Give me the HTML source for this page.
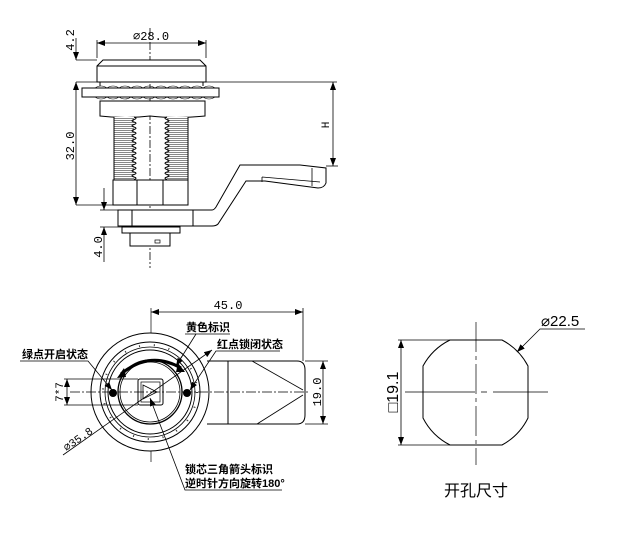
<!DOCTYPE html>
<html><head><meta charset="utf-8"><style>
html,body{margin:0;padding:0;background:#fff;width:644px;height:538px;overflow:hidden}
svg{display:block}
.m{font-family:"Liberation Mono","DejaVu Sans Mono",monospace;font-size:12px;fill:#000}
.c{font-family:"Liberation Sans","Noto Sans CJK SC",sans-serif;font-size:11px;fill:#000;font-weight:bold}
</style></head><body>
<svg width="644" height="538" viewBox="0 0 644 538" xmlns="http://www.w3.org/2000/svg">
<defs>
<pattern id="th" width="4" height="2" patternUnits="userSpaceOnUse"><rect width="4" height="2" fill="#fff"/><line x1="0" y1="0.5" x2="4" y2="0.5" stroke="#888" stroke-width="1"/></pattern>
<marker id="a" markerWidth="8" markerHeight="6" refX="8" refY="3" orient="auto-start-reverse" markerUnits="userSpaceOnUse"><path d="M0,0 L8,3 L0,6 z" fill="#000"/></marker>
</defs>
<g fill="none" stroke="#000" stroke-width="1">
<line x1="150" y1="28" x2="150" y2="268" stroke-dasharray="8,2,2,2" stroke-width="0.8"/>
<path d="M97,82 L97,66 L103,60 L200,60 L206,66 L206,82 Z" fill="#fff"/>
<line x1="97" y1="66" x2="206" y2="66"/>
<line x1="76" y1="82" x2="337" y2="82" stroke-width="0.8"/>
<line x1="100" y1="82" x2="100" y2="86"/><line x1="203" y1="82" x2="203" y2="86"/>
<rect x="82" y="88" width="137" height="9" fill="#fff"/>
<path d="M95,88 q6,-4 12,0 q6,-4 12,0 q6,-4 12,0 q6,-4 12,0 q6,-4 12,0 q6,-4 12,0 q6,-4 12,0 q6,-4 12,0 q6,-4 12,0 q6,-4 12,0" stroke-width="0.6"/>
<path d="M95,97 q6,4 12,0 q6,4 12,0 q6,4 12,0 q6,4 12,0 q6,4 12,0 q6,4 12,0 q6,4 12,0 q6,4 12,0 q6,4 12,0 q6,4 12,0" stroke-width="0.6"/>
<path d="M100,101 L205,101 L205,116 Q175,119 150,116 Q125,119 100,116 Z" fill="#fff"/>
<rect x="114" y="117" width="20" height="62" fill="url(#th)" stroke="none"/>
<rect x="167" y="117" width="21" height="62" fill="url(#th)" stroke="none"/>
<line x1="114" y1="117" x2="114" y2="180"/><line x1="188" y1="117" x2="188" y2="180"/>
<path d="M134,117 q4,1.25 0,2.5 t0,2.5 t0,2.5 t0,2.5 t0,2.5 t0,2.5 t0,2.5 t0,2.5 t0,2.5 t0,2.5 t0,2.5 t0,2.5 t0,2.5 t0,2.5 t0,2.5 t0,2.5 t0,2.5 t0,2.5 t0,2.5 t0,2.5 t0,2.5 t0,2.5 t0,2.5 t0,2.5 t0,2.5"/>
<path d="M167,117 q-4,1.25 0,2.5 t0,2.5 t0,2.5 t0,2.5 t0,2.5 t0,2.5 t0,2.5 t0,2.5 t0,2.5 t0,2.5 t0,2.5 t0,2.5 t0,2.5 t0,2.5 t0,2.5 t0,2.5 t0,2.5 t0,2.5 t0,2.5 t0,2.5 t0,2.5 t0,2.5 t0,2.5 t0,2.5 t0,2.5"/>
<rect x="113" y="180" width="75" height="25" fill="#fff"/>
<line x1="137" y1="180" x2="137" y2="205"/><line x1="163" y1="180" x2="163" y2="205"/>
<path d="M118,210 L212,210 Q214,210 216,207 L240,165 L300,165 L326,168 L326,183 Q324,188 318,188 L265,181 L246,181 L218,224 Q216,226 212,226 L118,226 Z" fill="#fff"/>
<line x1="132" y1="210" x2="132" y2="226"/><line x1="193" y1="210" x2="193" y2="226"/>
<path d="M262,177 L262,182 M262,177 L320,182 M312,168 L312,186" stroke-width="0.8"/>
<rect x="122" y="227" width="58" height="6" fill="#fff"/>
<rect x="130" y="233" width="40" height="13" fill="#fff"/>
<rect x="155" y="240" width="5" height="3" stroke-width="0.7"/>
<line x1="97" y1="58" x2="97" y2="40" stroke-width="0.8"/><line x1="206" y1="58" x2="206" y2="40" stroke-width="0.8"/>
<line x1="97" y1="43" x2="206" y2="43" marker-start="url(#a)" marker-end="url(#a)" stroke-width="0.8"/>
<line x1="76" y1="60" x2="97" y2="60" stroke-width="0.8"/>
<line x1="76" y1="38" x2="76" y2="60" marker-end="url(#a)" stroke-width="0.8"/>
<line x1="76" y1="82" x2="76" y2="205" marker-start="url(#a)" marker-end="url(#a)" stroke-width="0.8"/>
<line x1="76" y1="205" x2="113" y2="205" stroke-width="0.8"/>
<line x1="104" y1="188" x2="104" y2="210" marker-end="url(#a)" stroke-width="0.8"/>
<line x1="104" y1="227" x2="104" y2="262" marker-start="url(#a)" stroke-width="0.8"/>
<line x1="100" y1="210" x2="118" y2="210" stroke-width="0.8"/><line x1="100" y1="227" x2="122" y2="227" stroke-width="0.8"/>
<line x1="333" y1="82" x2="333" y2="166" marker-start="url(#a)" marker-end="url(#a)" stroke-width="0.8"/>
<line x1="326" y1="166" x2="338" y2="166" stroke-width="0.8"/>

<line x1="151" y1="308" x2="151" y2="462" stroke-width="0.7"/>
<path d="M207,361 L297,361 Q305,361 305,370 L305,415 Q305,424 297,424 L207,424" fill="#fff"/>
<line x1="228" y1="361" x2="228" y2="424"/>
<line x1="252" y1="361" x2="303" y2="390" stroke-width="0.8"/>
<line x1="257" y1="424" x2="303" y2="395" stroke-width="0.8"/>
<circle cx="150" cy="392" r="59" fill="#fff"/>
<circle cx="150" cy="392" r="50"/>
<circle cx="150" cy="392" r="47" stroke-dasharray="1,14" stroke-width="2" stroke="#333"/>
<circle cx="150" cy="392" r="45" stroke-width="0.8"/>
<circle cx="150" cy="392" r="42"/>
<circle cx="150" cy="392" r="32" stroke-width="1.3"/>
<circle cx="150" cy="392" r="30" stroke-width="0.8"/>
<rect x="138" y="379" width="25" height="26" rx="2"/>
<rect x="141" y="382" width="19" height="20" stroke-width="0.7"/>
<path d="M143,385 L157,392 L143,399 Z" stroke-width="0.8"/>
<line x1="70" y1="392" x2="310" y2="392" stroke-dasharray="10,2,2,2" stroke-width="0.7"/>
<circle cx="113" cy="393" r="3.5" fill="#000"/>
<circle cx="187" cy="393" r="3.5" fill="#000"/>
<path d="M121,374 Q150,350 181,368" stroke-width="3"/>
<path d="M117,378 L124,368 L126,377 Z M185,372 L178,363 L176,372 Z" fill="#000" stroke="none"/>
<line x1="63" y1="455" x2="212" y2="350" stroke-width="0.8" marker-end="url(#a)"/>
<line x1="151" y1="312" x2="303" y2="312" marker-start="url(#a)" marker-end="url(#a)" stroke-width="0.8"/>
<line x1="303" y1="308" x2="303" y2="361" stroke-width="0.8"/>
<line x1="305" y1="361" x2="328" y2="361" stroke-width="0.8"/><line x1="305" y1="424" x2="328" y2="424" stroke-width="0.8"/>
<line x1="323" y1="361" x2="323" y2="424" marker-start="url(#a)" marker-end="url(#a)" stroke-width="0.8"/>
<line x1="64" y1="379" x2="138" y2="379" stroke-width="0.8"/><line x1="64" y1="405" x2="138" y2="405" stroke-width="0.8"/>
<line x1="67" y1="379" x2="67" y2="405" marker-start="url(#a)" marker-end="url(#a)" stroke-width="0.8"/>
<path d="M20,361 L88,361 L112,390" stroke-width="0.8" marker-end="url(#a)"/>
<path d="M185,334 L230,334" stroke-width="0.8"/><line x1="196" y1="334" x2="176" y2="366" stroke-width="0.8" marker-end="url(#a)"/>
<path d="M280,351 L216,351 L190,390" stroke-width="0.8" marker-end="url(#a)"/>
<path d="M282,490 L185,490 L150,398" stroke-width="0.8" marker-end="url(#a)"/>

<line x1="476" y1="322" x2="476" y2="465" stroke-dasharray="30,4,4,4" stroke-width="0.7"/>
<line x1="405" y1="392" x2="548" y2="392" stroke-dasharray="70,6,6,6" stroke-width="0.7"/>
<path d="M450,340 L502,340 A62,62 0 0 1 528,366 L528,418 A62,62 0 0 1 502,445 L450,445 A62,62 0 0 1 423,418 L423,366 A62,62 0 0 1 450,340 Z"/>
<line x1="398" y1="340" x2="450" y2="340" stroke-width="0.8"/><line x1="398" y1="445" x2="450" y2="445" stroke-width="0.8"/>
<line x1="401" y1="340" x2="401" y2="445" marker-start="url(#a)" marker-end="url(#a)" stroke-width="0.8"/>
<path d="M585,329 L540,329 L517,352" stroke-width="0.8" marker-end="url(#a)"/>
</g>
<text class="m" x="151" y="40" text-anchor="middle">⌀28.0</text>
<text class="m" transform="translate(74,40) rotate(-90)" text-anchor="middle">4.2</text>
<text class="m" transform="translate(74,146) rotate(-90)" text-anchor="middle">32.0</text>
<text class="m" transform="translate(102,247) rotate(-90)" text-anchor="middle">4.0</text>
<text class="m" transform="translate(329,125) rotate(-90)" text-anchor="middle" style="font-size:11px">H</text>
<text class="m" x="228" y="309" text-anchor="middle">45.0</text>
<text class="m" transform="translate(321,392) rotate(-90)" text-anchor="middle">19.0</text>
<text class="m" transform="translate(63,392) rotate(-90)" text-anchor="middle" style="font-size:11px">7*7</text>
<text class="m" transform="translate(80,442) rotate(-35)" text-anchor="middle" style="font-size:11px">⌀35.8</text>
<text class="c" x="186" y="331">黄色标识</text>
<text class="c" x="217" y="348">红点锁闭状态</text>
<text class="c" x="22" y="358">绿点开启状态</text>
<text class="c" x="185" y="473">锁芯三角箭头标识</text>
<text class="c" x="185" y="487">逆时针方向旋转180°</text>
<text transform="translate(398,392) rotate(-90)" text-anchor="middle" style="font-size:16px;font-family:'Liberation Sans',sans-serif">□19.1</text>
<text x="541" y="326" style="font-family:'Liberation Sans',sans-serif;font-size:15px">⌀22.5</text>
<text x="476" y="496" text-anchor="middle" style="font-family:'Liberation Sans','Noto Sans CJK SC',sans-serif;font-size:16px">开孔尺寸</text>
</svg>
</body></html>
